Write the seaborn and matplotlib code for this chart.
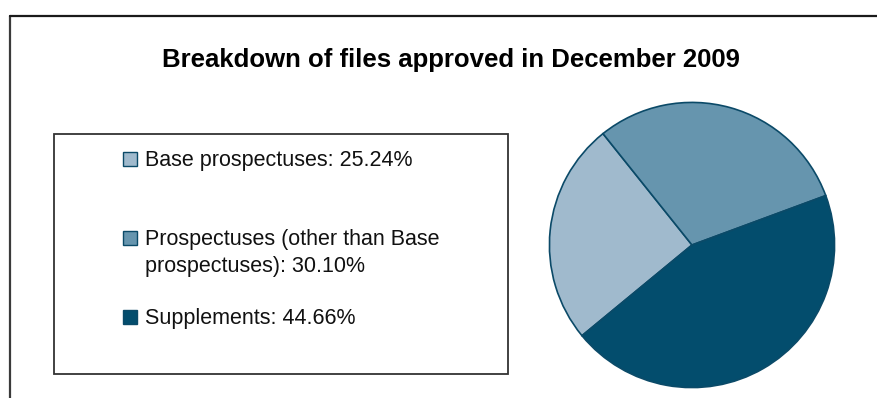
import matplotlib
matplotlib.use("Agg")
import matplotlib.pyplot as plt
from matplotlib.lines import Line2D
from matplotlib.patches import Rectangle
import seaborn as sns

# Files approved in December 2009, share of total (%)
categories = ["Base prospectuses",
              "Prospectuses (other than Base\nprospectuses)",
              "Supplements"]
shares = [25.24, 30.10, 44.66]
colors = ["#A0BACD", "#6695AE", "#034D6D"]
title = "Breakdown of files approved in December 2009"

sns.set_style("white")
plt.rcParams["font.family"] = ["Liberation Sans", "DejaVu Sans"]

W, H = 877, 398
fig = plt.figure(figsize=(W / 100, H / 100), dpi=100)


def fx(px):
    return px / W


def fy(py):
    return 1 - py / H


# outer chart frame (left and top edges)
fig.add_artist(Line2D([fx(10), fx(10)], [fy(16), fy(H + 2)], color="#3a3a3a", lw=1.6))
fig.add_artist(Line2D([fx(10), fx(W + 2)], [fy(16), fy(16)], color="#1a1a1a", lw=1.6))

# title
fig.text(fx(451), fy(67), title, ha="center", va="baseline",
         fontsize=18.5, fontweight="bold", color="#000000")

# pie
size = 288
ax = fig.add_axes([fx(692 - size / 2), fy(245 + size / 2), size / W, size / H])
ax.pie(shares, colors=colors, startangle=219.5, counterclock=False,
       wedgeprops=dict(edgecolor="#0B4A68", linewidth=1.2))
ax.set_xlim(-1.01, 1.01)
ax.set_ylim(-1.01, 1.01)
ax.set_aspect("equal")
ax.axis("off")

# legend box
fig.add_artist(Rectangle((fx(54), fy(374)), fx(508) - fx(54), fy(134) - fy(374),
                         transform=fig.transFigure, fill=False,
                         edgecolor="#333333", lw=1.3))

baselines = [166, 245, 324]
line_step = 27
for name, val, col, base in zip(categories, shares, colors, baselines):
    fig.add_artist(Rectangle((fx(123), fy(base)), fx(137) - fx(123), fy(base - 14) - fy(base),
                             transform=fig.transFigure, facecolor=col,
                             edgecolor="#0B4A68", lw=1.0))
    label = f"{name}: {val:.2f}%"
    for i, line in enumerate(label.split("\n")):
        fig.text(fx(145), fy(base + i * line_step), line, ha="left", va="baseline",
                 fontsize=15.5, color="#111111")

fig.savefig("out.png", dpi=100)
